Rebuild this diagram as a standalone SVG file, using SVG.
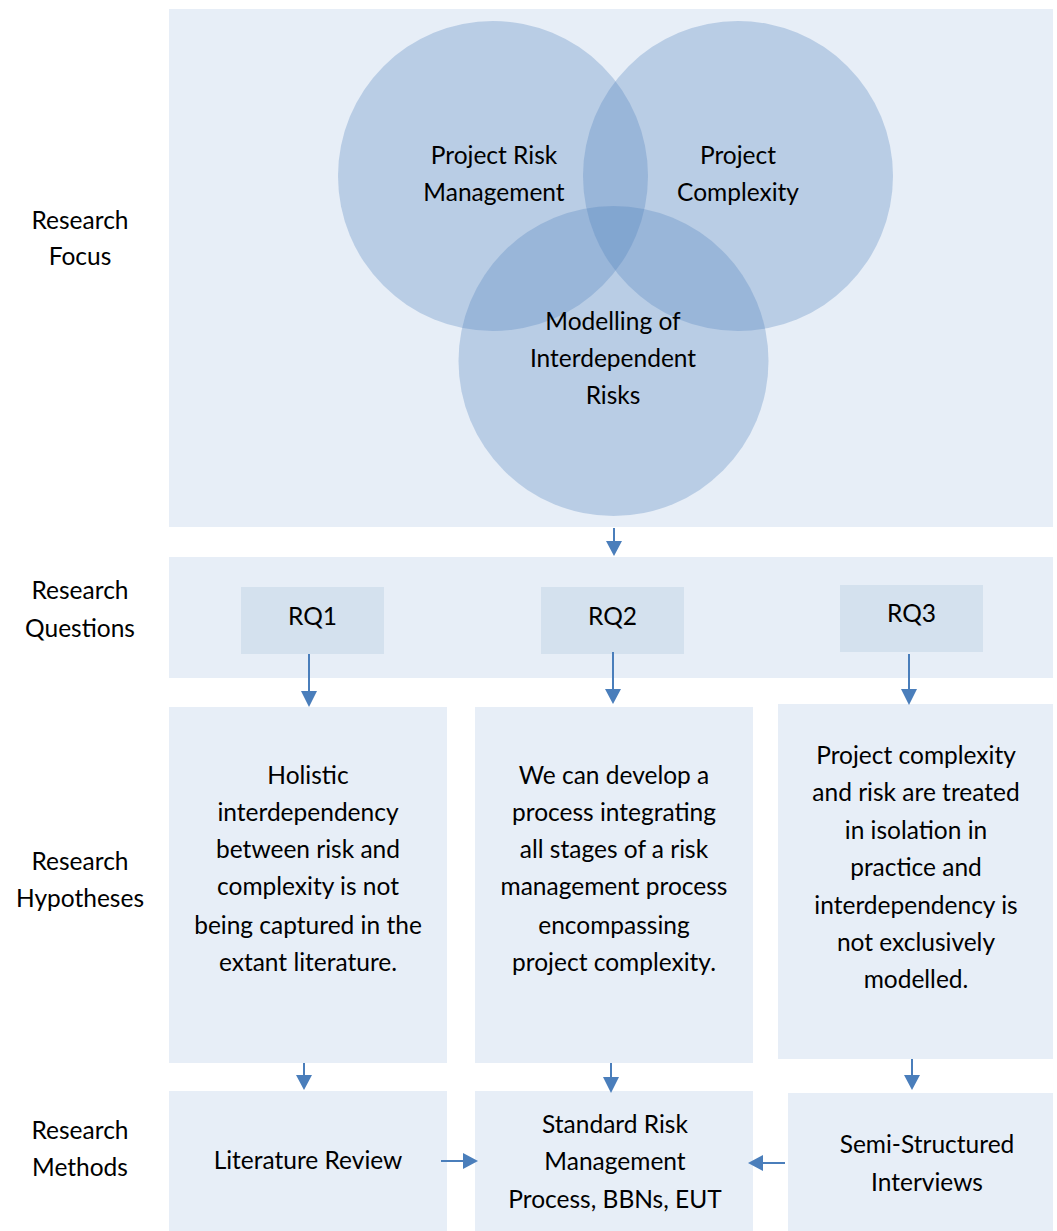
<svg xmlns="http://www.w3.org/2000/svg" width="1057" height="1231" viewBox="0 0 1057 1231">
<defs>
<style>
.bg{fill:#e7eef7}
.rq{fill:#d4e1ee}
.c{fill:#4f81bd;fill-opacity:0.3}
text{font-family:Lato,"Liberation Sans",sans-serif;font-size:24.5px;fill:#000;text-anchor:middle}
.ln{stroke:#4a7ebb;stroke-width:2;fill:none}
.hd{fill:#4a7ebb}
</style>
</defs>
<rect width="1057" height="1231" fill="#fff"/>
<g id="labels">
<text x="80" y="229">Research</text><text x="80" y="265">Focus</text>
<text x="80" y="599">Research</text><text x="80" y="637">Questions</text>
<text x="80" y="870">Research</text><text x="80" y="907">Hypotheses</text>
<text x="80" y="1139">Research</text><text x="80" y="1176">Methods</text>
</g>
<g id="focus">
<rect class="bg" x="169" y="9" width="884" height="518"/>
<circle class="c" cx="493" cy="176" r="155"/>
<circle class="c" cx="738" cy="176" r="155"/>
<circle class="c" cx="613.5" cy="361" r="155"/>
<text x="494" y="164">Project Risk</text><text x="494" y="201">Management</text>
<text x="738" y="164">Project</text><text x="738" y="201">Complexity</text>
<text x="613" y="330">Modelling of</text><text x="613" y="367">Interdependent</text><text x="613" y="404">Risks</text>
</g>
<g id="questions">
<rect class="bg" x="169" y="557" width="884" height="121"/>
</g>
<g id="rq1"><rect class="rq" x="241" y="587" width="143" height="67"/><text x="312.5" y="625">RQ1</text></g>
<g id="rq2"><rect class="rq" x="541" y="587" width="143" height="67"/><text x="612.5" y="625">RQ2</text></g>
<g id="rq3"><rect class="rq" x="840" y="585" width="143" height="67"/><text x="911.5" y="622">RQ3</text></g>
<g id="h1"><rect class="bg" x="169" y="707" width="278" height="356"/>
<text x="308" y="784">Holistic</text><text x="308" y="821">interdependency</text><text x="308" y="858">between risk and</text><text x="308" y="895">complexity is not</text><text x="308" y="934">being captured in the</text><text x="308" y="971">extant literature.</text></g>
<g id="h2"><rect class="bg" x="475" y="707" width="278" height="356"/>
<text x="614" y="784">We can develop a</text><text x="614" y="821">process integrating</text><text x="614" y="858">all stages of a risk</text><text x="614" y="895">management process</text><text x="614" y="934">encompassing</text><text x="614" y="971">project complexity.</text></g>
<g id="h3"><rect class="bg" x="778" y="704" width="275" height="355"/>
<text x="916" y="764">Project complexity</text><text x="916" y="801">and risk are treated</text><text x="916" y="839">in isolation in</text><text x="916" y="876">practice and</text><text x="916" y="914">interdependency is</text><text x="916" y="951">not exclusively</text><text x="916" y="988">modelled.</text></g>
<g id="m1"><rect class="bg" x="169" y="1091" width="278" height="140"/><text x="308" y="1169">Literature Review</text></g>
<g id="m2"><rect class="bg" x="475" y="1091" width="278" height="140"/><text x="615" y="1133">Standard Risk</text><text x="615" y="1170">Management</text><text x="615" y="1208">Process, BBNs, EUT</text></g>
<g id="m3"><rect class="bg" x="788" y="1093" width="265" height="138"/><text x="927" y="1153">Semi-Structured</text><text x="927" y="1191">Interviews</text></g>
<g id="connectors">
<path class="ln" d="M614,528 V541"/><path class="hd" d="M606,541 L622,541 L614,556 Z"/>
<path class="ln" d="M309,654 V692"/><path class="hd" d="M301,691 L317,691 L309,707 Z"/>
<path class="ln" d="M613,652 V690"/><path class="hd" d="M605,689 L621,689 L613,704 Z"/>
<path class="ln" d="M909,654 V690"/><path class="hd" d="M901,689 L917,689 L909,705 Z"/>
<path class="ln" d="M304,1063 V1076"/><path class="hd" d="M296,1075 L312,1075 L304,1090 Z"/>
<path class="ln" d="M611,1063 V1078"/><path class="hd" d="M603,1077 L619,1077 L611,1093 Z"/>
<path class="ln" d="M912,1059 V1076"/><path class="hd" d="M904,1075 L920,1075 L912,1090 Z"/>
<path class="ln" d="M441,1161 H464"/><path class="hd" d="M463,1153 L463,1169 L478,1161 Z"/>
<path class="ln" d="M785,1163 H762"/><path class="hd" d="M763,1155 L763,1171 L748,1163 Z"/>
</g>
</svg>
